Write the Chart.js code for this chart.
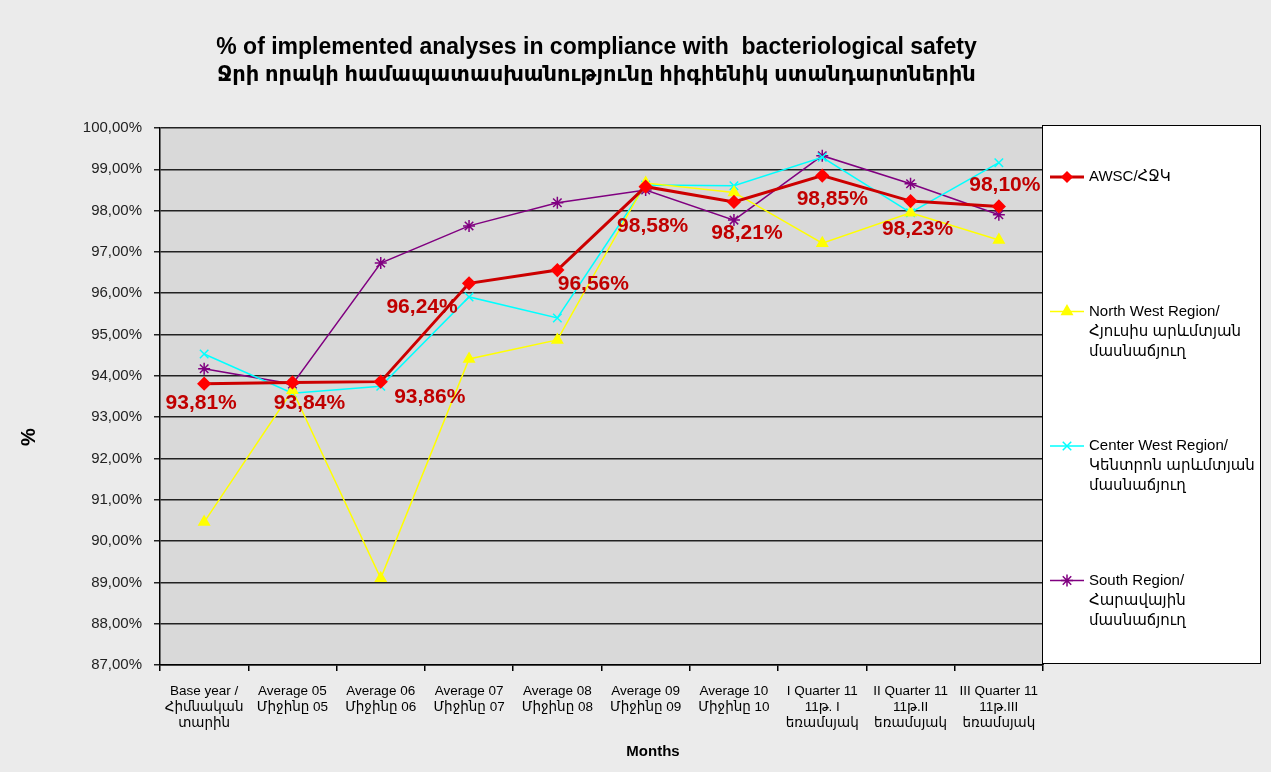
<!DOCTYPE html>
<html lang="en">
<head>
    <meta charset="UTF-8">
    <title>Bacteriological safety compliance</title>
    <style>
        body {
            margin: 0;
            background-color: #ebebeb;
            font-family: Arial, "Liberation Sans", "DejaVu Sans", sans-serif;
        }
        .chart-box {
            width: 1271px;
            height: 772px;
        }
    </style>
    <script src="https://cdn.jsdelivr.net/npm/chart.js"></script>
</head>
<body>
    <div class="chart-box">
        <canvas id="qualityChart" width="1271" height="772"></canvas>
    </div>

    <script>
        // data
        const categories = [
            ['Base year /', 'Հիմնական', 'տարին'],
            ['Average 05', 'Միջինը 05'],
            ['Average 06', 'Միջինը 06'],
            ['Average 07', 'Միջինը 07'],
            ['Average 08', 'Միջինը 08'],
            ['Average 09', 'Միջինը 09'],
            ['Average 10', 'Միջինը 10'],
            ['I Quarter 11', '11թ. I', 'եռամսյակ'],
            ['II Quarter 11', '11թ.II', 'եռամսյակ'],
            ['III Quarter 11', '11թ.III', 'եռամսյակ']
        ];
        const seriesNames = [
            ['AWSC/ՀՋԿ'],
            ['North West Region/', 'Հյուսիս արևմտյան', 'մասնաճյուղ'],
            ['Center West Region/', 'Կենտրոն արևմտյան', 'մասնաճյուղ'],
            ['South Region/', 'Հարավային', 'մասնաճյուղ']
        ];
        const awsc = [93.81, 93.84, 93.86, 96.24, 96.56, 98.58, 98.21, 98.85, 98.23, 98.10];
        const northWest = [90.46, 93.65, 89.10, 94.41, 94.87, 98.67, 98.44, 97.21, 97.95, 97.29];
        const centerWest = [94.53, 93.58, 93.75, 95.91, 95.40, 98.62, 98.60, 99.29, 97.95, 99.16];
        const south = [94.17, 93.80, 96.73, 97.63, 98.19, 98.50, 97.77, 99.33, 98.65, 97.90];
        const yTicksMin = 87;
        const yTicksMax = 100;
        const titleLines = [
            '% of implemented analyses in compliance with  bacteriological safety',
            'Ջրի որակի համապատասխանությունը հիգիենիկ ստանդարտներին'
        ];

        function pct(v) {
            return v.toFixed(2).replace('.', ',') + '%';
        }

        // grey plot background, white legend box, titles and value labels
        const decorPlugin = {
            id: 'decor',
            beforeDraw(chart) {
                const ctx = chart.ctx;
                const a = chart.chartArea;
                ctx.save();
                ctx.fillStyle = '#ebebeb';
                ctx.fillRect(0, 0, chart.width, chart.height);
                ctx.fillStyle = '#d9d9d9';
                ctx.fillRect(a.left, a.top, a.right - a.left, a.bottom - a.top);
                ctx.restore();
            },
            afterDatasetsDraw(chart) {
                const ctx = chart.ctx;
                const a = chart.chartArea;
                ctx.save();

                // plot frame on the right
                ctx.strokeStyle = '#000';
                ctx.lineWidth = 1.5;
                ctx.beginPath();
                ctx.moveTo(a.right, a.top);
                ctx.lineTo(a.right, a.bottom);
                ctx.stroke();

                // title
                ctx.fillStyle = '#000';
                ctx.textAlign = 'center';
                ctx.textBaseline = 'middle';
                const cx = (a.left + a.right) / 2 - 5;
                ctx.font = 'bold 23px Arial, "Liberation Sans", "DejaVu Sans", sans-serif';
                ctx.fillText(titleLines[0], cx, 48);
                ctx.font = 'bold 21px Arial, "Liberation Sans", "DejaVu Sans", sans-serif';
                ctx.fillText(titleLines[1], cx, 75);

                // axis titles
                ctx.font = 'bold 15px Arial, "Liberation Sans", sans-serif';
                ctx.fillText('Months', 653, 752);
                ctx.save();
                ctx.translate(29, 437);
                ctx.rotate(-Math.PI / 2);
                ctx.font = 'bold 20px Arial, "Liberation Sans", sans-serif';
                ctx.fillText('%', 0, 0);
                ctx.restore();

                // AWSC value labels
                const offsets = [[-3, 20], [17, 21], [49, 16], [-47, 24], [36, 14],
                                 [7, 40], [13, 31], [10, 24], [7, 28], [6, -21]];
                const meta = chart.getDatasetMeta(0);
                ctx.fillStyle = '#c00000';
                ctx.font = 'bold 21px Arial, "Liberation Sans", sans-serif';
                meta.data.forEach((pt, i) => {
                    ctx.fillText(pct(awsc[i]), pt.x + offsets[i][0], pt.y + offsets[i][1]);
                });

                // legend box
                const lx = 1042, ly = 125, lw = 218, lh = 538;
                ctx.fillStyle = '#ffffff';
                ctx.fillRect(lx, ly, lw, lh);
                ctx.strokeStyle = '#000';
                ctx.lineWidth = 1;
                ctx.strokeRect(lx + 0.5, ly + 0.5, lw, lh);

                ctx.textAlign = 'left';
                ctx.font = '15px Arial, "Liberation Sans", "DejaVu Sans", sans-serif';
                chart.data.datasets.forEach((ds, i) => {
                    const y = 177 + i * 134.5;
                    ctx.strokeStyle = ds.borderColor;
                    ctx.lineWidth = ds.borderWidth;
                    ctx.beginPath();
                    ctx.moveTo(1050, y);
                    ctx.lineTo(1084, y);
                    ctx.stroke();
                    ctx.fillStyle = ds.backgroundColor;
                    ctx.strokeStyle = ds.pointBorderColor || ds.borderColor;
                    ctx.lineWidth = 1.5;
                    Chart.helpers.drawPoint(ctx, {
                        pointStyle: ds.pointStyle,
                        radius: ds.pointRadius,
                        borderWidth: 1.5,
                        rotation: 0
                    }, 1067, y);
                    ctx.fillStyle = '#000';
                    seriesNames[i].forEach((line, j) => {
                        ctx.fillText(line, 1089, y + j * 20);
                    });
                });
                ctx.restore();
            }
        };

        const chart = new Chart(document.getElementById('qualityChart'), {
            type: 'line',
            data: {
                labels: categories,
                datasets: [
                    {
                        label: seriesNames[0].join(' '),
                        data: awsc,
                        borderColor: '#cc0000',
                        backgroundColor: '#ff0000',
                        pointBorderColor: '#ff0000',
                        borderWidth: 3,
                        pointStyle: 'rectRot',
                        pointRadius: 5,
                        tension: 0
                    },
                    {
                        label: seriesNames[1].join(' '),
                        data: northWest,
                        borderColor: '#ffff00',
                        backgroundColor: '#ffff00',
                        borderWidth: 1.5,
                        pointStyle: 'triangle',
                        pointRadius: 6,
                        tension: 0
                    },
                    {
                        label: seriesNames[2].join(' '),
                        data: centerWest,
                        borderColor: '#00ffff',
                        backgroundColor: '#00ffff',
                        borderWidth: 1.5,
                        pointStyle: 'crossRot',
                        pointRadius: 6,
                        tension: 0
                    },
                    {
                        label: seriesNames[3].join(' '),
                        data: south,
                        borderColor: '#800080',
                        backgroundColor: '#800080',
                        borderWidth: 1.5,
                        pointStyle: 'star',
                        pointRadius: 6,
                        tension: 0
                    }
                ]
            },
            options: {
                responsive: false,
                animation: false,
                layout: {
                    padding: { top: 128, right: 228, left: 0, bottom: 0 }
                },
                plugins: {
                    legend: { display: false },
                    title: { display: false },
                    tooltip: { enabled: false }
                },
                scales: {
                    x: {
                        offset: true,
                        afterFit(scale) { scale.height = 107; },
                        grid: {
                            offset: true,
                            drawOnChartArea: false,
                            color: '#000',
                            tickLength: 6,
                            lineWidth: 1.5
                        },
                        border: { color: '#000', width: 1.5 },
                        ticks: {
                            color: '#000',
                            maxRotation: 0,
                            autoSkip: false,
                            padding: 12,
                            font: { family: 'Arial, "Liberation Sans", "DejaVu Sans", sans-serif', size: 13.5, lineHeight: 1.2 }
                        }
                    },
                    y: {
                        min: yTicksMin,
                        max: yTicksMax,
                        afterFit(scale) { scale.width = 160; },
                        grid: {
                            color: '#222',
                            lineWidth: 1.5,
                            tickLength: 6
                        },
                        border: { color: '#000', width: 1.5 },
                        ticks: {
                            stepSize: 1,
                            color: '#222',
                            padding: 12,
                            callback: (v) => pct(v),
                            font: { family: 'Arial, "Liberation Sans", sans-serif', size: 15 }
                        }
                    }
                }
            },
            plugins: [decorPlugin]
        });
    </script>
</body>
</html>
